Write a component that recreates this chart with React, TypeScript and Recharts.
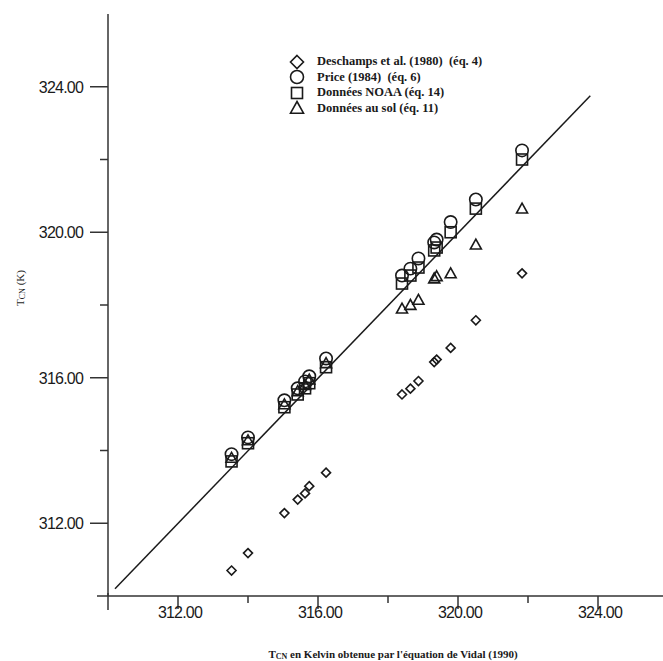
import React from "react";
import { ScatterChart, Scatter, XAxis, YAxis, Legend } from "recharts";

// TCN from Vidal (1990), shared x for every series
const vidal = [313.53, 314.0, 315.04, 315.42, 315.63, 315.75, 316.23, 318.4, 318.64, 318.87, 319.32, 319.39, 319.79, 320.51, 321.83];
const deschamps = [310.7, 311.18, 312.28, 312.65, 312.82, 313.02, 313.39, 315.54, 315.7, 315.91, 316.43, 316.5, 316.82, 317.58, 318.87];
const price = [313.9, 314.36, 315.38, 315.71, 315.9, 316.04, 316.53, 318.81, 319.0, 319.28, 319.72, 319.8, 320.28, 320.9, 322.25];
const noaa = [313.7, 314.2, 315.19, 315.54, 315.71, 315.85, 316.29, 318.59, 318.81, 319.03, 319.5, 319.58, 320.0, 320.65, 322.0];
const sol = [313.8, 314.28, 315.27, 315.63, 315.8, 315.95, 316.4, 317.9, 318.0, 318.14, 318.73, 318.79, 318.87, 319.66, 320.65];

// fitted line end points
const lineX = [310.2, 323.78];
const lineY = [310.2, 323.75];

const axisTicks = [310, 312, 314, 316, 318, 320, 322, 324];
const labelTicks = [312, 316, 320, 324];
const domain = [310, 326];

const seriesNames = [
  "Deschamps et al. (1980)  (éq. 4)",
  "Price (1984)  (éq. 6)",
  "Données NOAA (éq. 14)",
  "Données au sol (éq. 11)",
];

const INK = "#1a1a1a";

const pts = (ys: number[]) => vidal.map((x, i) => ({ x, y: ys[i] }));
const lineData = lineX.map((x, i) => ({ x, y: lineY[i] }));

const drawMark = (kind: string, cx: number, cy: number, s: number) => {
  const common = { fill: "none", stroke: INK, strokeWidth: 1.6 };
  if (kind === "diamond")
    return <path d={`M${cx},${cy - s}L${cx + s},${cy}L${cx},${cy + s}L${cx - s},${cy}Z`} {...common} />;
  if (kind === "circle") return <circle cx={cx} cy={cy} r={s} {...common} />;
  if (kind === "square") return <rect x={cx - s} y={cy - s} width={s * 2} height={s * 2} {...common} />;
  return <path d={`M${cx},${cy - s}L${cx + s},${cy + s * 0.8}L${cx - s},${cy + s * 0.8}Z`} {...common} />;
};

const shapeOf = (kind: string, s: number) => (p: any) => <g>{drawMark(kind, p.cx, p.cy, s)}</g>;

const XTick = (p: any) => {
  const { x, y, payload } = p;
  const v = payload.value;
  const major = labelTicks.includes(v);
  const len = v === 310 ? 14 : major ? 13 : 7;
  return (
    <g>
      <line x1={x} x2={x} y1={v === 310 ? y - 3 : y} y2={y + len} stroke="#333" strokeWidth={1.5} />
      {major && (
        <text x={x + 2} y={y + 22} textAnchor="middle" fontSize={16} letterSpacing={-0.8} fill={INK}
          fontFamily="'Liberation Sans', Arial, sans-serif">
          {v.toFixed(2)}
        </text>
      )}
    </g>
  );
};

const YTick = (p: any) => {
  const { x, y, payload } = p;
  const v = payload.value;
  const major = labelTicks.includes(v);
  const len = v === 310 ? 11 : major ? 18 : 8;
  return (
    <g>
      <line x1={x - len} x2={x} y1={y} y2={y} stroke="#333" strokeWidth={1.5} />
      {major && (
        <text x={x - 25} y={y + 6} textAnchor="end" fontSize={16} letterSpacing={-0.8} fill={INK}
          fontFamily="'Liberation Sans', Arial, sans-serif">
          {v.toFixed(2)}
        </text>
      )}
    </g>
  );
};

const legendKinds = ["diamond", "circle", "square", "triangle"];

const LegendBox = () => (
  <div style={{ fontFamily: "'Liberation Serif', 'Times New Roman', serif", fontSize: 12.5, fontWeight: "bold", color: INK }}>
    {seriesNames.map((name, i) => (
      <div key={name} style={{ display: "flex", alignItems: "center", height: 15.5 }}>
        <svg width={29} height={16}>{drawMark(legendKinds[i], 9, 8, legendKinds[i] === "square" ? 5.5 : 6.5)}</svg>
        <span style={{ whiteSpace: "pre" }}>{name}</span>
      </div>
    ))}
  </div>
);

export default function App() {
  return (
    <div style={{ position: "absolute", left: 0, top: 0, width: 663, height: 661, overflow: "hidden", background: "#fff" }}>
      <ScatterChart width={668} height={661} margin={{ top: 14, right: 0, bottom: 0, left: 0 }}>
        <XAxis
          type="number"
          dataKey="x"
          domain={domain}
          ticks={axisTicks}
          allowDataOverflow
          height={65}
          tickSize={0}
          tickMargin={0}
          tickLine={false}
          axisLine={{ stroke: "#333", strokeWidth: 1.5 }}
          tick={<XTick />}
          interval={0}
          label={{
            content: () => (
              <text x={393} y={658} textAnchor="middle" fontSize={11} fontWeight="bold" fill={INK}
                fontFamily="'Liberation Serif', 'Times New Roman', serif">
                T<tspan fontSize={8} dy={1}>CN</tspan><tspan dy={-1}> en Kelvin obtenue par l'équation de Vidal (1990)</tspan>
              </text>
            ),
          }}
        />
        <YAxis
          type="number"
          dataKey="y"
          domain={domain}
          ticks={axisTicks}
          allowDataOverflow
          width={108}
          tickSize={0}
          tickMargin={0}
          tickLine={false}
          axisLine={{ stroke: "#333", strokeWidth: 1.5 }}
          tick={<YTick />}
          interval={0}
          label={{
            content: () => (
              <text x={24} y={288} transform="rotate(-90 24 288)" textAnchor="middle" fontSize={11} fill={INK}
                fontFamily="'Liberation Serif', 'Times New Roman', serif">
                T<tspan fontSize={8} dy={1}>CN</tspan><tspan dy={-1}> (K)</tspan>
              </text>
            ),
          }}
        />
        <Legend
          layout="horizontal"
          verticalAlign="middle"
          align="center"
          content={<LegendBox />}
          wrapperStyle={{ position: "absolute", left: 288, top: 54, width: 270 }}
        />
        <Scatter data={lineData} line={{ stroke: INK, strokeWidth: 1.5 }} shape={() => <g />} isAnimationActive={false} legendType="none" />
        <Scatter data={pts(deschamps)} shape={shapeOf("diamond", 4.5)} isAnimationActive={false} />
        <Scatter data={pts(price)} shape={shapeOf("circle", 6.2)} isAnimationActive={false} />
        <Scatter data={pts(noaa)} shape={shapeOf("square", 5.5)} isAnimationActive={false} />
        <Scatter data={pts(sol)} shape={shapeOf("triangle", 5.5)} isAnimationActive={false} />
      </ScatterChart>
    </div>
  );
}
